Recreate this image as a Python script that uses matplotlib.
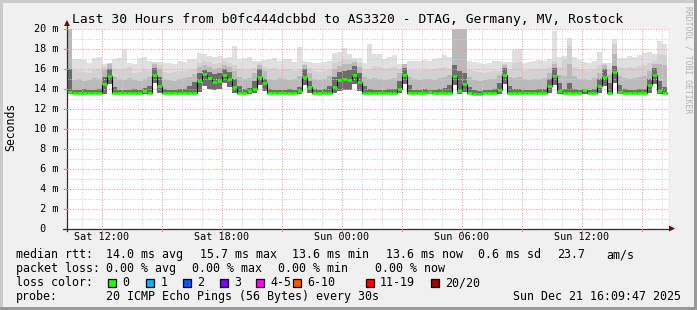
import numpy as np
import matplotlib
matplotlib.use("Agg")
import matplotlib.pyplot as plt
from matplotlib.patches import Rectangle, Polygon
from matplotlib.lines import Line2D

W, H = 697, 310
DPI = 100

# ---------------- data (hours since Sat 00:00, 15 minute steps) ----------------
t_start = 10.25
t_step = 0.25

med = [13.7, 13.6, 13.6, 13.6, 13.6, 13.6, 13.6, 14.5, 15.3, 13.6,
       13.6, 13.6, 13.6, 13.6, 13.6, 13.8, 13.6, 15.4, 14.3, 13.6,
       13.6, 13.6, 13.6, 13.6, 13.6, 13.6, 14.8, 15.5, 15.1, 14.7,
       14.8, 15.4, 15.0, 14.2, 13.6, 13.6, 13.8, 14.0, 15.2, 14.6,
       13.6, 13.6, 13.6, 13.6, 13.6, 13.6, 13.8, 15.2, 14.2, 13.6,
       13.6, 13.6, 13.6, 14.2, 14.9, 15.0, 14.9, 15.4, 14.7, 13.6,
       13.6, 13.6, 13.6, 13.6, 13.6, 13.6, 14.0, 15.4, 13.6, 13.6,
       13.6, 13.6, 13.7, 13.6, 13.6, 13.6, 13.6, 15.3, 13.8, 14.5,
       13.6, 13.5, 13.5, 13.6, 13.6, 13.6, 13.9, 15.4, 13.6, 13.6,
       13.6, 13.6, 13.6, 13.6, 13.6, 13.6, 14.3, 15.3, 13.8, 13.6,
       13.6, 13.6, 13.6, 13.9, 13.6, 13.6, 14.3, 15.2, 13.6, 15.7,
       13.7, 13.6, 13.6, 13.6, 13.6, 13.6, 14.4, 15.4, 13.8, 13.6]

smin = [13.45, 13.45, 13.45, 13.45, 13.45, 13.45, 13.45, 13.5, 14.5, 13.45,
        13.45, 13.45, 13.45, 13.45, 13.45, 13.5, 13.45, 14.6, 13.6, 13.45,
        13.45, 13.45, 13.45, 13.45, 13.45, 13.45, 13.7, 14.3, 14.0, 13.9,
        14.0, 14.6, 14.2, 13.6, 13.45, 13.45, 13.5, 13.6, 14.4, 13.8,
        13.45, 13.45, 13.45, 13.45, 13.45, 13.45, 13.5, 14.4, 13.6, 13.45,
        13.45, 13.45, 13.45, 13.6, 13.8, 13.9, 13.9, 14.5, 13.8, 13.45,
        13.45, 13.45, 13.45, 13.45, 13.45, 13.45, 13.6, 14.5, 13.45, 13.45,
        13.45, 13.45, 13.45, 13.45, 13.45, 13.45, 13.45, 14.4, 13.5, 13.7,
        13.45, 13.4, 13.4, 13.45, 13.45, 13.45, 13.5, 14.5, 13.45, 13.45,
        13.45, 13.45, 13.45, 13.45, 13.45, 13.45, 13.6, 14.4, 13.5, 13.45,
        13.45, 13.45, 13.45, 13.5, 13.45, 13.45, 13.6, 14.3, 13.45, 14.6,
        13.45, 13.45, 13.45, 13.45, 13.45, 13.45, 13.6, 14.5, 13.5, 13.45]

q60 = [16.0, 13.9, 13.9, 14.0, 13.9, 13.9, 14.0, 15.2, 16.0, 14.2,
       13.9, 13.9, 13.9, 14.0, 13.9, 14.1, 14.3, 16.1, 15.2, 14.0,
       13.9, 13.9, 14.0, 14.0, 14.3, 14.7, 15.6, 15.9, 15.7, 15.5,
       15.6, 16.0, 15.7, 15.0, 14.3, 14.0, 14.1, 14.8, 16.0, 15.0,
       14.0, 13.9, 13.9, 13.9, 14.0, 13.9, 14.2, 16.0, 14.8, 14.0,
       13.9, 14.0, 14.3, 15.2, 15.7, 15.8, 15.9, 16.3, 15.6, 14.3,
       14.0, 13.9, 13.9, 13.9, 14.0, 14.0, 14.8, 16.1, 14.4, 13.9,
       13.9, 14.0, 13.9, 13.9, 14.0, 14.1, 14.4, 16.4, 15.8, 15.6,
       14.2, 13.9, 13.8, 13.9, 13.9, 14.0, 14.6, 16.1, 14.3, 14.0,
       14.0, 13.9, 13.9, 13.9, 14.0, 14.0, 15.0, 16.1, 14.6, 14.0,
       14.6, 14.0, 13.9, 14.0, 13.9, 14.0, 15.0, 16.0, 14.6, 16.3,
       14.4, 14.0, 13.9, 13.9, 14.0, 14.0, 15.0, 16.1, 14.8, 14.2]

q75 = [20.0, 14.9, 15.0, 14.8, 14.9, 15.1, 15.0, 15.9, 16.5, 15.2,
       15.0, 14.9, 15.1, 14.9, 14.8, 15.0, 15.2, 16.5, 16.0, 15.0,
       14.9, 14.8, 15.0, 15.1, 15.2, 15.5, 16.2, 16.4, 16.2, 16.0,
       16.1, 16.4, 16.2, 15.8, 15.2, 15.0, 15.1, 15.6, 16.4, 15.8,
       15.0, 14.9, 15.1, 15.0, 14.9, 15.0, 15.3, 16.4, 15.6, 15.0,
       14.9, 15.0, 15.3, 16.0, 16.3, 16.5, 16.5, 16.7, 16.2, 15.2,
       15.0, 15.1, 15.0, 14.9, 15.0, 15.1, 15.6, 16.5, 15.2, 15.0,
       14.9, 15.0, 15.0, 14.9, 15.1, 15.2, 15.4, 20.0, 20.0, 20.0,
       15.2, 14.9, 14.8, 14.9, 15.0, 15.0, 15.4, 16.4, 15.2, 15.1,
       15.2, 15.0, 14.9, 15.0, 15.0, 15.1, 15.6, 16.5, 15.4, 15.3,
       16.5, 15.3, 15.0, 15.0, 14.9, 15.1, 15.6, 16.4, 15.4, 17.5,
       15.3, 15.1, 15.0, 15.1, 15.2, 15.3, 15.8, 16.5, 16.5, 16.4]

q90 = [20.0, 15.9, 15.8, 15.7, 15.6, 15.9, 16.0, 16.2, 16.6, 16.0,
       15.9, 16.0, 16.2, 15.6, 15.7, 16.0, 15.8, 16.6, 16.4, 15.7,
       15.6, 15.7, 15.8, 15.8, 15.9, 16.0, 16.6, 16.8, 16.7, 16.5,
       16.6, 16.8, 16.6, 16.4, 16.0, 15.9, 16.0, 16.1, 16.6, 16.2,
       16.0, 16.1, 15.9, 16.0, 16.0, 15.8, 16.0, 16.5, 16.1, 15.8,
       15.7, 15.8, 15.9, 16.6, 16.8, 17.0, 16.9, 16.9, 16.6, 15.9,
       16.0, 16.3, 16.2, 16.0, 16.1, 16.2, 16.0, 16.5, 15.9, 15.9,
       15.8, 15.9, 15.9, 16.0, 16.1, 16.2, 16.0, 20.0, 20.0, 20.0,
       15.9, 15.8, 15.7, 15.6, 15.7, 15.8, 15.8, 16.5, 15.9, 16.6,
       16.7, 15.8, 15.9, 16.0, 16.0, 16.0, 16.2, 16.8, 16.2, 17.0,
       18.3, 16.2, 16.0, 15.9, 15.8, 16.0, 16.4, 16.5, 16.0, 18.5,
       16.2, 16.1, 16.2, 16.1, 16.3, 16.4, 16.6, 16.8, 17.5, 17.4]

smax = [20.0, 17.0, 17.0, 16.9, 16.6, 17.1, 17.2, 16.5, 16.5, 17.0,
        17.1, 18.0, 16.6, 16.5, 17.1, 17.2, 16.8, 16.7, 16.7, 16.6,
        16.6, 16.5, 16.8, 16.7, 17.0, 17.0, 17.6, 17.5, 17.3, 17.2,
        17.3, 17.1, 17.2, 18.3, 17.0, 17.1, 17.2, 16.8, 16.8, 16.9,
        17.0, 17.1, 16.8, 17.0, 17.0, 16.7, 18.2, 16.8, 16.7, 16.6,
        16.6, 16.7, 16.8, 17.6, 17.7, 18.1, 17.5, 17.1, 17.1, 16.6,
        18.5, 17.5, 17.5, 17.0, 17.2, 17.4, 16.5, 16.5, 16.8, 16.8,
        16.8, 16.9, 16.8, 17.0, 17.1, 17.4, 17.2, 20.0, 20.0, 20.0,
        16.8, 16.7, 16.6, 16.5, 16.6, 16.8, 16.8, 16.7, 16.7, 17.9,
        18.0, 16.6, 16.7, 16.8, 16.9, 16.8, 17.0, 19.8, 17.2, 17.3,
        19.1, 17.2, 16.9, 16.7, 16.6, 16.8, 17.7, 16.6, 16.6, 19.0,
        17.1, 17.1, 17.3, 17.2, 17.4, 17.6, 17.7, 17.5, 18.8, 18.5]

x_major_ticks = [12, 18, 24, 30, 36]
x_major_labels = ["Sat 12:00", "Sat 18:00", "Sun 00:00", "Sun 06:00", "Sun 12:00"]
y_ticks = [0, 2, 4, 6, 8, 10, 12, 14, 16, 18, 20]
y_labels = [" 0", " 2 m", " 4 m", " 6 m", " 8 m", "10 m", "12 m", "14 m", "16 m", "18 m", "20 m"]

loss_labels = ["0", "1", "2", "3", "4-5", "6-10", "11-19", "20/20"]
loss_colors = ["#26ff00", "#00b8ff", "#0059ff", "#7e00ff", "#ff00ff", "#ff5500", "#ff0000", "#a10000"]

title = "Last 30 Hours from b0fc444dcbbd to AS3320 - DTAG, Germany, MV, Rostock"
legend_rtt = ["median rtt:", "14.0 ms avg", "15.7 ms max", "13.6 ms min", "13.6 ms now", "0.6 ms sd", "23.7", "am/s"]
legend_loss = ["packet loss:", "0.00 % avg", "0.00 % max", "0.00 % min", "0.00 % now"]
probe_text = "20 ICMP Echo Pings (56 Bytes) every 30s"
stamp = "Sun Dec 21 16:09:47 2025"

# ---------------- figure ----------------
MONO = "DejaVu Sans Mono"
fig = plt.figure(figsize=(W / DPI, H / DPI), dpi=DPI, facecolor="#f0f0f0")

def fx(x):
    return x / W

def fy(y):
    return 1 - y / H

# shaded frame
fig.add_artist(Rectangle((0, fy(3)), 1, 3 / H, transform=fig.transFigure, color="#cbcbcb", lw=0))
fig.add_artist(Rectangle((0, 0), 3 / W, 1, transform=fig.transFigure, color="#cbcbcb", lw=0))
fig.add_artist(Rectangle((0, 0), 1, 3.5 / H, transform=fig.transFigure, color="#999999", lw=0))
fig.add_artist(Rectangle((fx(W - 3.5), 0), 3.5 / W, 1, transform=fig.transFigure, color="#999999", lw=0))

PX0, PX1 = 67, 668
PY0, PY1 = 228.5, 29
ax = fig.add_axes([fx(PX0), fy(PY0), (PX1 - PX0) / W, (PY0 - PY1) / H])
ax.set_facecolor("white")
t_end = t_start + (PX1 - PX0) / 20.0
ax.set_xlim(t_start, t_end)
ax.set_ylim(0, 20)
for s in ax.spines.values():
    s.set_visible(False)
ax.set_xticks([])
ax.set_yticks([])

n = len(med)
xe = t_start + t_step * np.arange(n + 1)

def ext(a):
    a = np.asarray(a, dtype=float)
    return np.append(a, a[-1])

bands = [(smax, "#e0e0e0"), (q90, "#d2d2d2"), (q75, "#bababa"), (q60, "#6c6c6c")]
for hi, col in bands:
    ax.fill_between(xe, ext(smin), ext(np.minimum(hi, 20.0)), step="post", color=col, lw=0, zorder=1)

# grid
for h in range(11, 41):
    if h % 3 == 0:
        continue
    ax.axvline(h, color="#d0d0d0", lw=0.75, ls=(0, (1, 1.5)), zorder=2)
for v in range(1, 20, 2):
    ax.axhline(v, color="#d0d0d0", lw=0.75, ls=(0, (1, 1.5)), zorder=2)
for h in range(12, 40, 3):
    ax.axvline(h, color="#f2a0a0", lw=0.75, ls=(0, (1, 1.5)), zorder=2)
for v in y_ticks[1:]:
    ax.axhline(v, color="#f2a0a0", lw=0.75, ls=(0, (1, 1.5)), zorder=2)

# median: black step line with loss-colour marks
ax.step(xe, ext(med), where="post", color="black", lw=0.8, zorder=3)
ax.hlines(med, xe[:-1], xe[1:], color=loss_colors[0], lw=1.9, zorder=4)

# axes lines and arrows (figure pixel coordinates)
AXIS = "#2c2c2c"
fig.add_artist(Line2D([fx(PX0), fx(PX0)], [fy(PY0 + 2), fy(24)], transform=fig.transFigure, color=AXIS, lw=0.9))
fig.add_artist(Line2D([fx(PX0 - 4), fx(671)], [fy(PY0), fy(PY0)], transform=fig.transFigure, color=AXIS, lw=0.9))
fig.add_artist(Polygon([(fx(PX0 - 3), fy(26)), (fx(PX0 + 3), fy(26)), (fx(PX0), fy(20))], closed=True,
                       transform=fig.transFigure, color="#7f0000", lw=0))
fig.add_artist(Polygon([(fx(669), fy(PY0 - 3)), (fx(669), fy(PY0 + 3)), (fx(675), fy(PY0))], closed=True,
                       transform=fig.transFigure, color="#7f0000", lw=0))

def xpix(h):
    return PX0 + (h - t_start) * 20.0

for h in range(12, 40, 3):
    xp = xpix(h)
    fig.add_artist(Line2D([fx(xp), fx(xp)], [fy(PY0), fy(PY0 + 2.5)], transform=fig.transFigure,
                          color="#f08080", lw=0.8))
for v in y_ticks:
    yp = PY0 - v * (PY0 - PY1) / 20.0
    fig.add_artist(Line2D([fx(PX0 - 3), fx(PX0)], [fy(yp), fy(yp)], transform=fig.transFigure,
                          color="#f08080" if v else AXIS, lw=0.8))

# tick labels
for h, lab in zip(x_major_ticks, x_major_labels):
    fig.text(fx(xpix(h)), fy(237.5), lab, ha="center", va="center", family=MONO, fontsize=7.3)
for v, lab in zip(y_ticks, y_labels):
    yp = PY0 - v * (PY0 - PY1) / 20.0
    fig.text(fx(34.5), fy(yp), lab, ha="left", va="center", family=MONO, fontsize=7.3)

# title and side labels
fig.text(fx(347.5), fy(19.5), title, ha="center", va="center", family=MONO, fontsize=9.4)
fig.text(fx(11), fy(127), "Seconds", rotation=90, ha="center", va="center", family=MONO, fontsize=8.3)
fig.text(fx(688), fy(60), "RRDTOOL / TOBI OETIKER", rotation=270, ha="center", va="center",
         family=MONO, fontsize=5.8, color="#b0b0b0")

# legend
FS = 8.4
rtt_x = [15.5, 106.5, 199.5, 292.5, 386, 478.5, 557.5, 606]
for x, s in zip(rtt_x, legend_rtt):
    fig.text(fx(x), fy(254.5), s, ha="left", va="center", family=MONO, fontsize=FS)
loss_x = [15.5, 106.5, 192.5, 278.5, 374.5]
for x, s in zip(loss_x, legend_loss):
    fig.text(fx(x), fy(268.5), s, ha="left", va="center", family=MONO, fontsize=FS)
fig.text(fx(15.5), fy(282.5), "loss color:", ha="left", va="center", family=MONO, fontsize=FS)
sq_x = [108, 146, 182.5, 219.5, 256, 292.5, 365.5, 430.5]
for x, lab, col in zip(sq_x, loss_labels, loss_colors):
    fig.add_artist(Rectangle((fx(x), fy(286.5)), 8 / W, 8 / H, transform=fig.transFigure,
                             facecolor=col, edgecolor="black", lw=0.9))
    fig.text(fx(x + 14.5), fy(282.5), lab, ha="left", va="center", family=MONO, fontsize=FS)
fig.text(fx(15.5), fy(296.5), "probe:", ha="left", va="center", family=MONO, fontsize=FS)
fig.text(fx(106.5), fy(296.5), probe_text, ha="left", va="center", family=MONO, fontsize=FS)
fig.text(fx(681), fy(296.5), stamp, ha="right", va="center", family=MONO, fontsize=FS)

fig.savefig("out.png", dpi=DPI, facecolor=fig.get_facecolor())
